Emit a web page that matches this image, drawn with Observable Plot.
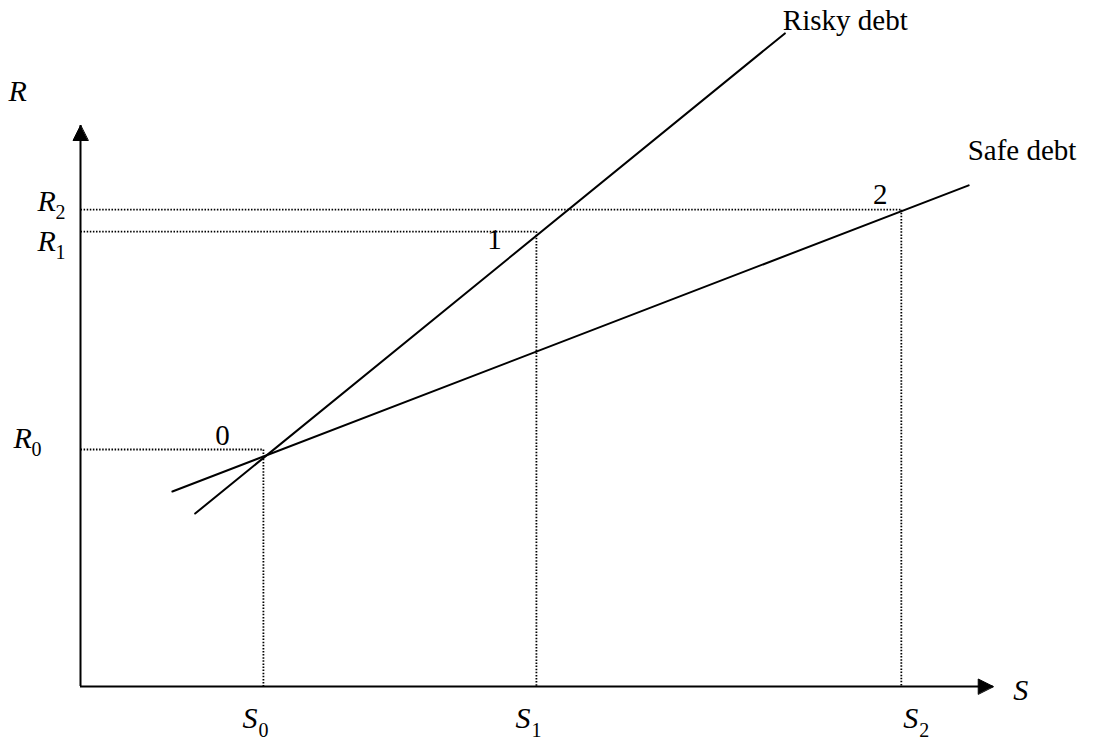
<!DOCTYPE html>
<html>
<head>
<meta charset="utf-8">
<script src="https://cdn.jsdelivr.net/npm/d3@7"></script>
<script src="https://cdn.jsdelivr.net/npm/@observablehq/plot@0.6"></script>
<style>
  html, body { margin: 0; padding: 0; background: #fff; }
  svg { display: block; }
</style>
</head>
<body>
<div id="chart"></div>
<script>
// ---- data ----
const sLevels = [2.01, 5.01, 9.02];          // S0, S1, S2
const rLevels = [5.07, 9.73, 10.2];          // R0, R1, R2
const subs = ["0", "1", "2"];
const pointLabels = ["0", "1", "2"];
const riskyDebtS = [1.26, 7.74];
const riskyDebtR = [3.70, 13.97];
const safeDebtS = [1.01, 9.76];
const safeDebtR = [4.17, 10.72];
const sAxisEnd = 10.03;
const rAxisEnd = 12;
const curveNames = ["Risky debt", "Safe debt"];

// ---- tables built from the arrays ----
const risky = riskyDebtS.map((s, i) => ({S: s, R: riskyDebtR[i]}));
const safe = safeDebtS.map((s, i) => ({S: s, R: safeDebtR[i]}));
const pts = sLevels.map((s, i) => ({S: s, R: rLevels[i], label: pointLabels[i], sub: subs[i]}));

const serif = "Liberation Serif, Times New Roman, serif";
const big = 29, ital = 30, small = 20;

const triangle = {
  draw(ctx, l, r) {
    ctx.moveTo(0, -l);
    ctx.lineTo(-r, 0);
    ctx.lineTo(r, 0);
    ctx.closePath();
  }
};

const dotted = {stroke: "#000", strokeWidth: 1.8, strokeDasharray: "1.5,1.6"};

function rLabel(i, dx, dy) {
  return [
    Plot.text([pts[i]], {x: 0, y: "R", text: () => "R", dx, dy, textAnchor: "start", lineAnchor: "bottom", fontStyle: "italic", fontSize: ital}),
    Plot.text([pts[i]], {x: 0, y: "R", text: "sub", dx: dx + 18, dy: dy + 8, textAnchor: "start", lineAnchor: "bottom", fontSize: small})
  ];
}
function sLabel(i, dx, dy) {
  return [
    Plot.text([pts[i]], {x: "S", y: 0, text: () => "S", dx, dy, textAnchor: "start", lineAnchor: "bottom", fontStyle: "italic", fontSize: ital}),
    Plot.text([pts[i]], {x: "S", y: 0, text: "sub", dx: dx + 16, dy: dy + 9, textAnchor: "start", lineAnchor: "bottom", fontSize: small})
  ];
}

const chart = Plot.plot({
  width: 1094,
  height: 745,
  marginLeft: 80,
  marginRight: 104,
  marginTop: 125,
  marginBottom: 59,
  x: {domain: [0, 10], axis: null},
  y: {domain: [0, 12], axis: null},
  style: {fontFamily: serif, background: "#fff", color: "#000"},
  marks: [
    // dotted guide lines
    Plot.link(pts, {x1: 0, y1: "R", x2: "S", y2: "R", ...dotted}),
    Plot.link(pts, {x1: "S", y1: "R", x2: "S", y2: 0, ...dotted}),
    // axes
    Plot.ruleY([0], {x1: 0, x2: sAxisEnd, stroke: "#000", strokeWidth: 2}),
    Plot.ruleX([0], {y1: 0, y2: rAxisEnd, stroke: "#000", strokeWidth: 2}),
    Plot.vector([{S: sAxisEnd, R: 0}], {x: "S", y: "R", rotate: 90, length: 15, r: 7.5, anchor: "end", shape: triangle, fill: "#000", stroke: "#000", strokeWidth: 1}),
    Plot.vector([{S: 0, R: rAxisEnd}], {x: "S", y: "R", rotate: 0, length: 15, r: 7.5, anchor: "end", shape: triangle, fill: "#000", stroke: "#000", strokeWidth: 1}),
    // curves
    Plot.line(risky, {x: "S", y: "R", stroke: "#000", strokeWidth: 2}),
    Plot.line(safe, {x: "S", y: "R", stroke: "#000", strokeWidth: 2}),
    Plot.text([risky[1]], {x: "S", y: "R", text: () => curveNames[0], dx: -2, dy: -3, textAnchor: "start", lineAnchor: "bottom", fontSize: big}),
    Plot.text([safe[1]], {x: "S", y: "R", text: () => curveNames[1], dx: -1, dy: -25, textAnchor: "start", lineAnchor: "bottom", fontSize: big}),
    // point labels
    Plot.text([pts[0]], {x: "S", y: "R", text: "label", dx: -41, dy: -4, lineAnchor: "bottom", fontSize: big}),
    Plot.text([pts[1]], {x: "S", y: "R", text: "label", dx: -42, dy: 17, lineAnchor: "bottom", fontSize: big}),
    Plot.text([pts[2]], {x: "S", y: "R", text: "label", dx: -21, dy: -6, lineAnchor: "bottom", fontSize: big}),
    // axis titles
    Plot.text([{S: 0, R: rAxisEnd}], {x: "S", y: "R", text: () => "R", dx: -72, dy: -25, textAnchor: "start", lineAnchor: "bottom", fontStyle: "italic", fontSize: ital}),
    Plot.text([{S: sAxisEnd, R: 0}], {x: "S", y: "R", text: () => "S", dx: 20, dy: 13, textAnchor: "start", lineAnchor: "bottom", fontStyle: "italic", fontSize: ital}),
    // tick labels
    ...rLabel(0, -67, -1),
    ...rLabel(1, -43, 19),
    ...rLabel(2, -43, 1),
    ...sLabel(0, -21, 41),
    ...sLabel(1, -21, 41),
    ...sLabel(2, 2, 41)
  ]
});
document.getElementById("chart").appendChild(chart);
</script>
</body>
</html>
